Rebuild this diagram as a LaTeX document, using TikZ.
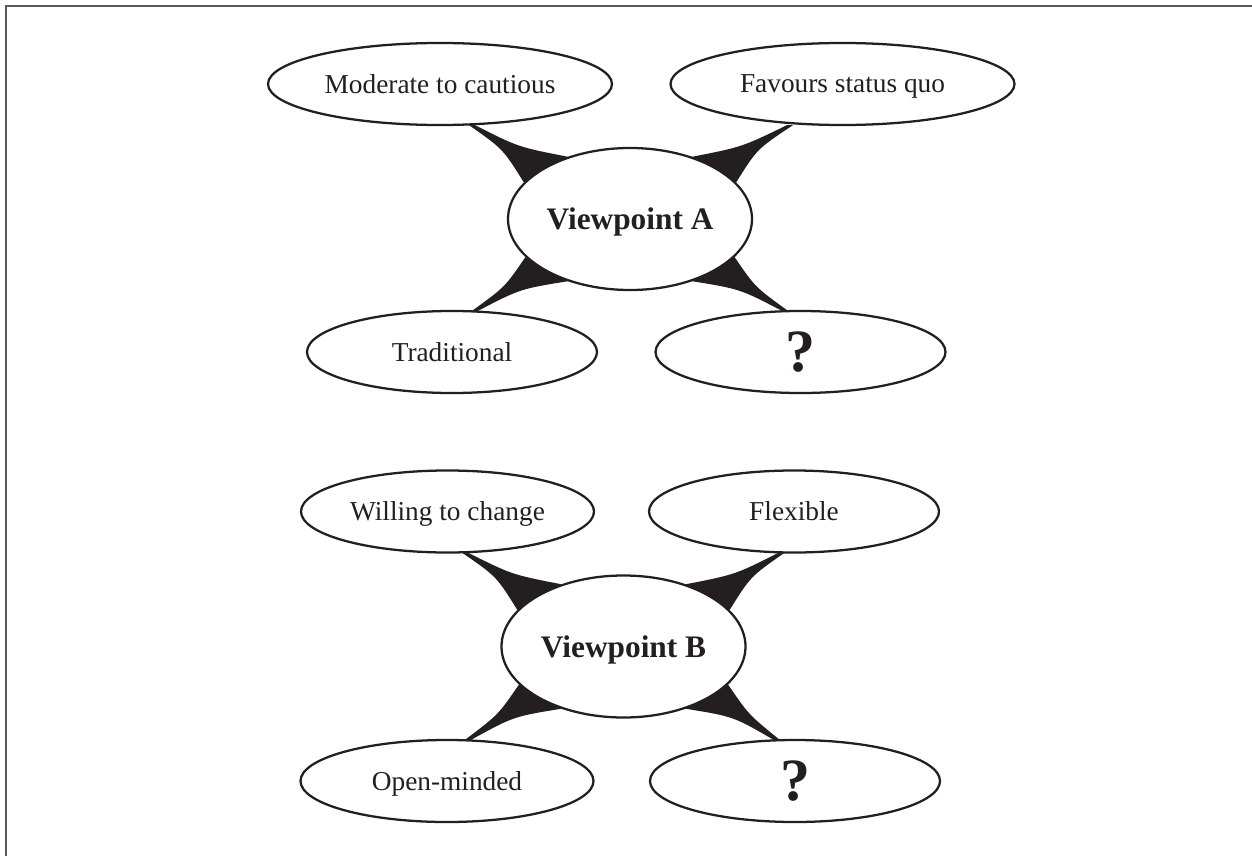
\documentclass[tikz,border=0pt]{standalone}
\usepackage{fontspec}
\setmainfont{Liberation Serif}
\usetikzlibrary{shapes.geometric,calc}
\definecolor{ink}{RGB}{35,31,32}
\pgfdeclarelayer{bg}
\pgfsetlayers{bg,main}
\tikzset{
  bubble/.style={ellipse, draw=ink, text=ink, line width=1.7pt, fill=white, inner sep=0pt,
    text depth=0pt, font=\fontsize{20.5}{24}\selectfont},
  smallbub/.style={bubble, minimum width=217.5pt, minimum height=61.5pt},
  widebub/.style={bubble, minimum width=258pt, minimum height=61.5pt},
  hub/.style={bubble, minimum width=183pt, minimum height=106.5pt,
    font=\fontsize{23.5}{28}\selectfont\bfseries},
  qmark/.style={smallbub, font=\fontsize{45}{50}\selectfont\bfseries},
  spike/.style={fill=ink, draw=none},
  frameline/.style={draw=black!65, line width=1.5pt}
}
\begin{document}
\begin{tikzpicture}[x=0.75pt,y=-0.75pt]
\useasboundingbox (0,0) rectangle (1252,856);
\coordinate (fTL) at (6,6);
\coordinate (fTR) at (1252,6);
\coordinate (fBL) at (6,856);
\draw[frameline] (fTR) -- (fTL) -- (fBL);

% Group A
\node[widebub] (mod) at (440,84) {Moderate to cautious};
\node[widebub] (fav) at (842.5,84) {Favours status quo};
\node[hub] (vA) at (630,219) {Viewpoint A};
\node[smallbub] (trad) at (452,352) {Traditional};
\node[qmark] (qA) at (800.5,352) {?};

% Group B
\node[smallbub, minimum width=219.75pt] (will) at (447.5,511.5) {Willing to change};
\node[smallbub] (flex) at (794,511.5) {Flexible};
\node[hub] (vB) at (623.5,646.5) {Viewpoint B};
\node[smallbub, minimum width=219.75pt] (open) at (447,781) {Open-minded};
\node[qmark] (qB) at (795,781) {?};

\begin{pgfonlayer}{bg}
% A connectors
\fill[spike] ($(mod.south)+(35,-1)$) .. controls ($(vA)+(-112,-72)$) .. (vA.135) -- (vA.161)
  .. controls ($(vA)+(-127,-70)$) .. ($(mod.south)+(29,-1)$) -- cycle;
\fill[spike] ($(fav.south)+(-55.5,-1)$) .. controls ($(vA)+(112,-72)$) .. (vA.45) -- (vA.19)
  .. controls ($(vA)+(127,-70)$) .. ($(fav.south)+(-49.5,-1)$) -- cycle;
\fill[spike] ($(trad.north)+(26,1)$) .. controls ($(vA)+(-110,70)$) .. (vA.225) -- (vA.200)
  .. controls ($(vA)+(-125,68)$) .. ($(trad.north)+(20,1)$) -- cycle;
\fill[spike] ($(qA.north)+(-18.5,1)$) .. controls ($(vA)+(110,70)$) .. (vA.315) -- (vA.340)
  .. controls ($(vA)+(125,68)$) .. ($(qA.north)+(-12.5,1)$) -- cycle;
% B connectors
\fill[spike] ($(will.south)+(20.5,-1)$) .. controls ($(vB)+(-112,-72)$) .. (vB.135) -- (vB.161)
  .. controls ($(vB)+(-127,-70)$) .. ($(will.south)+(14.5,-1)$) -- cycle;
\fill[spike] ($(flex.south)+(-15.3,-1)$) .. controls ($(vB)+(112,-72)$) .. (vB.45) -- (vB.19)
  .. controls ($(vB)+(127,-70)$) .. ($(flex.south)+(-9.3,-1)$) -- cycle;
\fill[spike] ($(open.north)+(24,1)$) .. controls ($(vB)+(-110,70)$) .. (vB.225) -- (vB.200)
  .. controls ($(vB)+(-125,68)$) .. ($(open.north)+(18,1)$) -- cycle;
\fill[spike] ($(qB.north)+(-21.3,1)$) .. controls ($(vB)+(110,70)$) .. (vB.315) -- (vB.340)
  .. controls ($(vB)+(125,68)$) .. ($(qB.north)+(-15.3,1)$) -- cycle;
\end{pgfonlayer}
\end{tikzpicture}
\end{document}
